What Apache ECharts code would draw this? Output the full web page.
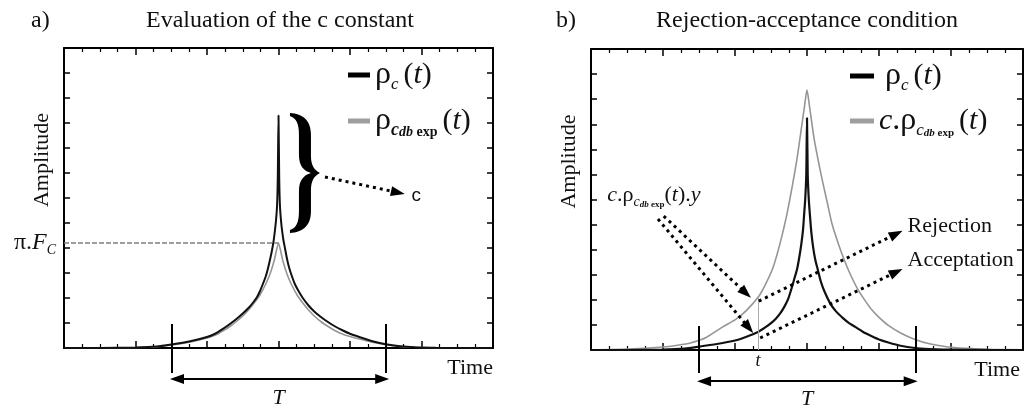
<!DOCTYPE html>
<html><head><meta charset="utf-8">
<script src="https://cdn.jsdelivr.net/npm/echarts@6/dist/echarts.min.js"></script>
<style>html,body{margin:0;padding:0;background:#fff}#c{width:1025px;height:412px}</style>
</head><body><div id="c"></div>
<script>
// ---------------- data ----------------
// panel a : rho_c(t) (black) and rho_cdbexp(t) (grey)
const aBlackT = [0, 0.5, 1.0, 1.3, 1.5, 1.75, 2.0, 2.12, 2.23, 2.33, 2.42, 2.5, 2.58, 2.64, 2.7, 2.74, 2.78, 2.82, 2.85, 2.88, 2.905, 2.93, 2.95, 2.965, 2.98, 2.99, 3.0, 3.01, 3.02, 3.035, 3.05, 3.07, 3.09, 3.12, 3.15, 3.19, 3.23, 3.28, 3.34, 3.42, 3.5, 3.58, 3.66, 3.78, 3.9, 4.0, 4.13, 4.3, 4.5, 4.7, 4.9, 5.2, 5.6, 6.0];
const aBlackV = [0, 0, 0.02, 0.06, 0.14, 0.26, 0.44, 0.58, 0.78, 0.98, 1.18, 1.38, 1.6, 1.8, 2.04, 2.27, 2.55, 2.85, 3.15, 3.52, 3.85, 4.25, 4.7, 5.1, 5.7, 6.8, 9.3, 6.8, 5.7, 5.1, 4.7, 4.3, 4.0, 3.55, 3.2, 2.85, 2.55, 2.28, 2.0, 1.7, 1.46, 1.27, 1.1, 0.88, 0.7, 0.57, 0.44, 0.28, 0.15, 0.07, 0.03, 0.01, 0, 0];
const aGreyT = [0, 0.5, 1.0, 1.3, 1.5, 1.75, 2.0, 2.12, 2.23, 2.33, 2.42, 2.5, 2.58, 2.66, 2.74, 2.82, 2.88, 2.94, 3.0, 3.06, 3.12, 3.18, 3.26, 3.34, 3.42, 3.5, 3.6, 3.7, 3.8, 3.9, 4.0, 4.13, 4.3, 4.5, 4.7, 4.9, 5.2, 5.6, 6.0];
const aGreyV = [0, 0, 0.02, 0.05, 0.12, 0.23, 0.4, 0.52, 0.7, 0.88, 1.08, 1.28, 1.52, 1.8, 2.12, 2.55, 2.95, 3.5, 4.2, 3.5, 2.95, 2.55, 2.12, 1.8, 1.52, 1.28, 1.04, 0.85, 0.68, 0.55, 0.46, 0.36, 0.24, 0.13, 0.06, 0.03, 0.01, 0, 0];
// panel b : rho_c(t) (black) and c.rho_cdbexp(t) (grey)
const bBlackT = [0, 0.5, 1.0, 1.3, 1.49, 1.75, 2.0, 2.15, 2.32, 2.42, 2.5, 2.57, 2.63, 2.69, 2.74, 2.78, 2.82, 2.86, 2.89, 2.92, 2.945, 2.96, 2.975, 2.99, 3.0, 3.01, 3.025, 3.04, 3.06, 3.085, 3.115, 3.15, 3.19, 3.24, 3.32, 3.4, 3.5, 3.58, 3.67, 3.78, 3.9, 4.0, 4.13, 4.3, 4.5, 4.7, 4.9, 5.2, 5.6, 6.0];
const bBlackV = [0, 0, 0.02, 0.06, 0.13, 0.24, 0.38, 0.52, 0.72, 0.9, 1.07, 1.26, 1.47, 1.75, 2.05, 2.4, 2.8, 3.2, 3.65, 4.2, 4.8, 5.4, 6.0, 7.0, 9.25, 7.0, 6.0, 5.4, 4.7, 4.1, 3.6, 3.2, 2.75, 2.35, 1.87, 1.55, 1.27, 1.08, 0.92, 0.72, 0.55, 0.42, 0.3, 0.17, 0.08, 0.04, 0.02, 0.01, 0, 0];
const bGreyT = [0, 0.5, 1.0, 1.2, 1.38, 1.6, 1.83, 2.0, 2.15, 2.32, 2.42, 2.53, 2.63, 2.72, 2.8, 2.86, 2.92, 2.96, 3.0, 3.04, 3.1, 3.21, 3.28, 3.35, 3.44, 3.53, 3.62, 3.71, 3.8, 3.9, 4.0, 4.13, 4.3, 4.5, 4.7, 4.96, 5.2, 5.5, 6.0];
const bGreyV = [0.01, 0.04, 0.12, 0.19, 0.28, 0.5, 0.92, 1.2, 1.55, 2.1, 2.6, 3.3, 4.3, 5.4, 6.6, 7.6, 8.8, 9.6, 10.37, 9.6, 8.4, 6.8, 5.9, 5.0, 4.2, 3.5, 2.9, 2.4, 2.0, 1.6, 1.3, 0.98, 0.68, 0.42, 0.25, 0.12, 0.07, 0.03, 0.01];

// axis ranges
const xRange = [0, 6];
const yRange = [0, 12];
const yOverlayMin = -2;

// annotations, panel a (data coordinates)
const aPiFcLine = [[0, 4.2], [3, 4.2]];
const aBrace = [3.37, 7.0];
const aArrowC = [[3.65, 6.84], [4.67, 6.22]];
const aTBarsX = [1.5, 4.5];
const aTBarsY = [0.96, -1.0];
const aTArrow = [[1.58, -1.24], [4.45, -1.24]];
const aTLabel = [3.0, -2.0];
// annotations, panel b
const bTBarsX = [1.5, 4.51];
const bTBarsY = [0.96, -0.92];
const bTArrow = [[1.57, -1.24], [4.44, -1.24]];
const bTLabel = [3.0, -1.98];
const bTimeMark = [[2.32, 2.1], [2.32, 0]];
const bSmallTLabel = [2.32, -0.45];
const bArrowsIn = [[[1.01, 5.34], [2.15, 2.27]], [[0.93, 5.22], [2.19, 0.89]]];
const bArrowsOut = [[[2.33, 1.95], [4.24, 4.63]], [[2.35, 0.48], [4.24, 3.11]]];
const bCrhoLabel = [0.22, 6.18];
const bRejectLabel = [4.39, 4.94];
const bAcceptLabel = [4.39, 3.59];

// ---------------- styling ----------------
const SERIF = "'Liberation Serif','Times New Roman',serif";
const SANS = "'Liberation Sans',Arial,sans-serif";
const INK = '#111111';
const GREY = '#959595';

const pairs = (t, v) => t.map((x, i) => [x, v[i]]);

const richBig = {
  r: {fontFamily: SERIF, fontSize: 32, lineHeight: 36, color: INK, verticalAlign: 'middle'},
  r0: {fontFamily: SERIF, fontSize: 32, lineHeight: 36, color: INK, verticalAlign: 'middle', padding: [0, 0, 0, 6]},
  rn: {fontFamily: SERIF, fontSize: 30, lineHeight: 36, color: INK, verticalAlign: 'middle'},
  i: {fontFamily: SERIF, fontSize: 30, fontStyle: 'italic', lineHeight: 36, color: INK, verticalAlign: 'middle'},
  s: {fontFamily: SERIF, fontSize: 17, fontStyle: 'italic', lineHeight: 14, color: INK, verticalAlign: 'bottom'},
  s2: {fontFamily: SERIF, fontSize: 18, fontStyle: 'italic', fontWeight: 'bold', lineHeight: 15, color: INK, verticalAlign: 'bottom'},
  ss: {fontFamily: SERIF, fontSize: 11, fontStyle: 'italic', fontWeight: 'bold', lineHeight: 8, color: INK, verticalAlign: 'bottom'},
  sb: {fontFamily: SERIF, fontSize: 11, fontWeight: 'bold', lineHeight: 8, color: INK, verticalAlign: 'bottom'},
  ss2: {fontFamily: SERIF, fontSize: 14, fontStyle: 'italic', fontWeight: 'bold', lineHeight: 8, color: INK, verticalAlign: 'bottom'},
  sb2: {fontFamily: SERIF, fontSize: 14, fontWeight: 'bold', lineHeight: 8, color: INK, verticalAlign: 'bottom'},
  p: {fontFamily: SERIF, fontSize: 30, lineHeight: 36, color: INK, verticalAlign: 'middle', padding: [0, 0, 0, 5]}
};
const richMid = {
  n: {fontFamily: SERIF, fontSize: 22, lineHeight: 28, color: INK, verticalAlign: 'middle'},
  nb: {fontFamily: SERIF, fontSize: 24, lineHeight: 28, color: INK, verticalAlign: 'middle'},
  i: {fontFamily: SERIF, fontSize: 22, fontStyle: 'italic', lineHeight: 28, color: INK, verticalAlign: 'middle'},
  ib: {fontFamily: SERIF, fontSize: 24, fontStyle: 'italic', lineHeight: 28, color: INK, verticalAlign: 'middle'},
  s: {fontFamily: SERIF, fontSize: 14, fontStyle: 'italic', lineHeight: 10, color: INK, verticalAlign: 'bottom'},
  ss: {fontFamily: SERIF, fontSize: 9, fontStyle: 'italic', fontWeight: 'bold', lineHeight: 5, color: INK, verticalAlign: 'bottom'},
  sb: {fontFamily: SERIF, fontSize: 9, fontWeight: 'bold', lineHeight: 5, color: INK, verticalAlign: 'bottom'},
  t: {fontFamily: SERIF, fontSize: 18, fontStyle: 'italic', color: INK}
};
const legendText = {
  a1: '{r|ρ}{s|c}{p|(}{i|t}{rn|)}',
  a2: '{r|ρ}{s2|c}{ss2|db}{sb2| exp}{p|(}{i|t}{rn|)}',
  b1: '{r0|ρ}{s|c}{p|(}{i|t}{rn|)}',
  b2: '{i|c}{r|.ρ}{s|c}{ss|db}{sb| exp}{p|(}{i|t}{rn|)}'
};

function boxX(gridIndex, position, name, nameGap) {
  return {
    type: 'value', gridIndex, position, min: xRange[0], max: xRange[1], interval: 1,
    name: name || '', nameLocation: 'end', nameGap: nameGap || 0,
    nameTextStyle: {fontFamily: SERIF, fontSize: 22, color: INK, align: 'right', verticalAlign: 'top', padding: [9, 0, 0, 0]},
    axisLine: {show: true, onZero: false, lineStyle: {color: '#000', width: 2}},
    axisTick: {show: true, inside: true, length: 7, lineStyle: {color: '#000', width: 1.5}},
    minorTick: {show: true, splitNumber: 4, length: 4, lineStyle: {color: '#000', width: 1.2}},
    axisLabel: {show: false}, splitLine: {show: false}, minorSplitLine: {show: false}
  };
}
function boxY(gridIndex, position, name) {
  return {
    type: 'value', gridIndex, position, min: yRange[0], max: yRange[1], interval: 1,
    name: name || '', nameLocation: 'middle', nameRotate: 90, nameGap: 11,
    nameTextStyle: {fontFamily: SERIF, fontSize: 22, color: INK, padding: [0, 0, 0, 76]},
    axisLine: {show: true, onZero: false, lineStyle: {color: '#000', width: 2}},
    axisTick: {show: true, inside: true, length: 6, lineStyle: {color: '#000', width: 1.5}},
    axisLabel: {show: false}, splitLine: {show: false}
  };
}
const hiddenX = g => ({type: 'value', gridIndex: g, min: xRange[0], max: xRange[1], show: false});
const hiddenY = g => ({type: 'value', gridIndex: g, min: yOverlayMin, max: yRange[1], show: false});

const solid = {color: '#000', width: 2, type: 'solid', opacity: 1};
const dotted = {color: '#000', width: 3, type: [3, 4], opacity: 1};
const TRI = [10, 14];

function seg(p1, p2, style, s1, s2, label) {
  return [
    {coord: p1, lineStyle: style, symbol: s1 || 'none', symbolSize: TRI, label: label || {show: false}},
    {coord: p2, symbol: s2 || 'none', symbolSize: TRI}
  ];
}
function tBars(xs, ys) {
  return xs.map(x => seg([x, ys[0]], [x, ys[1]], solid));
}
function textItem(pos, formatter, extra) {
  return {
    value: pos, symbolSize: 1, itemStyle: {color: 'rgba(0,0,0,0)', opacity: 1},
    label: Object.assign({show: true, position: 'inside', distance: 0, formatter, rich: richMid,
      fontFamily: SERIF, fontSize: 22, color: INK, opacity: 1}, extra || {})
  };
}
const markBase = {silent: true, animation: false, symbol: ['none', 'none'], label: {show: false},
  itemStyle: {color: '#000', opacity: 1}, emphasis: {disabled: true}};

const BRACE = 'path://M0,0 C13,1 21,7 21,22 L21,43 C21,52 24,57 30,60 C24,63 21,68 21,77 L21,98 C21,113 13,119 0,120 L0,117 C6,115 9,110 9,98 L9,78 C9,67 14,62 21,60 C14,58 9,53 9,42 L9,22 C9,10 6,5 0,3 Z';

function curve(name, xi, t, v, color, width, z) {
  return {type: 'line', name, xAxisIndex: xi, yAxisIndex: xi, data: pairs(t, v), symbol: 'none',
    smooth: 0.2,
    lineStyle: {color, width}, itemStyle: {color}, silent: true, z};
}

const titleStyle = {fontFamily: SERIF, fontSize: 24, fontWeight: 'normal', color: INK};
const option = {
  animation: false,
  backgroundColor: '#fff',
  title: [
    {text: 'a)', left: 31, top: 9, padding: 0, textStyle: titleStyle},
    {text: 'Evaluation of the c constant', left: 280, top: 9, padding: 0, textAlign: 'center', textStyle: titleStyle},
    {text: 'b)', left: 556, top: 9, padding: 0, textStyle: titleStyle},
    {text: 'Rejection-acceptance condition', left: 807, top: 9, padding: 0, textAlign: 'center', textStyle: titleStyle}
  ],
  legend: [
    {orient: 'vertical', left: 348, top: 59, itemGap: 12, itemWidth: 22, itemHeight: 5, selectedMode: false,
     padding: 0, textStyle: {rich: richBig, fontFamily: SERIF, fontSize: 30},
     formatter: n => legendText[n],
     data: [{name: 'a1', icon: 'rect', itemStyle: {color: '#000'}},
            {name: 'a2', icon: 'rect', itemStyle: {color: '#9e9e9e'}}]},
    {orient: 'vertical', left: 850, top: 60, itemGap: 11, itemWidth: 24, itemHeight: 5, selectedMode: false,
     padding: 0, textStyle: {rich: richBig, fontFamily: SERIF, fontSize: 30},
     formatter: n => legendText[n],
     data: [{name: 'b1', icon: 'rect', itemStyle: {color: '#000'}},
            {name: 'b2', icon: 'rect', itemStyle: {color: '#9e9e9e'}}]}
  ],
  grid: [
    {left: 64, top: 48, width: 429, height: 300, outerBoundsMode: 'none', containLabel: false},
    {left: 64, top: 48, width: 429, height: 350, outerBoundsMode: 'none', containLabel: false},
    {left: 591, top: 49, width: 432, height: 301, outerBoundsMode: 'none', containLabel: false},
    {left: 591, top: 49, width: 432, height: 351.2, outerBoundsMode: 'none', containLabel: false}
  ],
  xAxis: [
    boxX(0, 'bottom', 'Time', 0), boxX(0, 'top'), hiddenX(1),
    boxX(2, 'bottom', 'Time', -3), boxX(2, 'top'), hiddenX(3)
  ],
  yAxis: [
    boxY(0, 'left', 'Amplitude'), boxY(0, 'right'), hiddenY(1),
    boxY(2, 'left', 'Amplitude'), boxY(2, 'right'), hiddenY(3)
  ],
  series: [
    curve('a2', 0, aGreyT, aGreyV, GREY, 1.6, 2),
    curve('a1', 0, aBlackT, aBlackV, INK, 2, 3),
    curve('b2', 3, bGreyT, bGreyV, GREY, 1.6, 2),
    curve('b1', 3, bBlackT, bBlackV, INK, 2.2, 3),
    // panel a annotations
    {type: 'scatter', xAxisIndex: 2, yAxisIndex: 2, clip: false, silent: true, z: 5,
     itemStyle: {opacity: 1},
     data: [textItem(aTLabel, '{i|T}')],
     markLine: Object.assign({}, markBase, {data: [
       seg(aPiFcLine[0], aPiFcLine[1], {color: '#7d7d7d', width: 1.5, type: [5, 2]}, 'none', 'none',
           {show: true, position: 'start', distance: 8, formatter: '{nb|π.}{ib|F}{s|C}', rich: richMid}),
       seg(aArrowC[0], aArrowC[1], dotted, 'none', 'triangle',
           {show: true, position: 'end', distance: 14, formatter: 'c', fontFamily: SANS, fontSize: 19, color: INK}),
       ...tBars(aTBarsX, aTBarsY),
       seg(aTArrow[0], aTArrow[1], solid, 'triangle', 'triangle')
     ]})},
    {type: 'scatter', xAxisIndex: 2, yAxisIndex: 2, clip: false, silent: true, z: 5,
     data: [aBrace], symbol: BRACE, symbolSize: [30, 120], itemStyle: {color: '#000', opacity: 1}},
    // panel b annotations
    {type: 'scatter', xAxisIndex: 5, yAxisIndex: 5, clip: false, silent: true, z: 5,
     itemStyle: {opacity: 1},
     data: [
       textItem(bTLabel, '{i|T}'),
       textItem(bSmallTLabel, '{t|t}'),
       textItem(bCrhoLabel, '{i|c}{n|.ρ}{s|c}{ss|db}{sb| exp}{n|(}{i|t}{n|).}{i|y}', {position: 'right'}),
       textItem(bRejectLabel, '{n|Rejection}', {position: 'right'}),
       textItem(bAcceptLabel, '{n|Acceptation}', {position: 'right'})
     ],
     markLine: Object.assign({}, markBase, {data: [
       seg(bTimeMark[0], bTimeMark[1], {color: '#a8a8a8', width: 1, type: 'solid'}),
       ...bArrowsIn.map(a => seg(a[0], a[1], dotted, 'none', 'triangle')),
       ...bArrowsOut.map(a => seg(a[0], a[1], dotted, 'none', 'triangle')),
       ...tBars(bTBarsX, bTBarsY),
       seg(bTArrow[0], bTArrow[1], solid, 'triangle', 'triangle')
     ]})}
  ]
};
const chart = echarts.init(document.getElementById('c'), null, {renderer: 'canvas'});
chart.setOption(option);
</script></body></html>
